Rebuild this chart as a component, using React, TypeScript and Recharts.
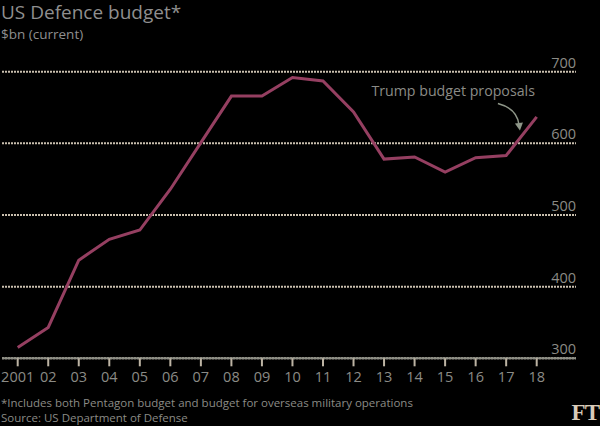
import React from 'react';
import {
  LineChart,
  Line,
  XAxis,
  YAxis,
  CartesianGrid,
  ReferenceDot,
} from 'recharts';

// page has an 8px default margin, drop it so the chart sits at 0,0
document.body.style.margin = '0';
document.body.style.background = '#000';

const years = [
  2001, 2002, 2003, 2004, 2005, 2006, 2007, 2008, 2009,
  2010, 2011, 2012, 2013, 2014, 2015, 2016, 2017, 2018,
];
const budget = [
  315, 343, 437, 466, 479, 536, 601, 666, 666,
  692, 687, 644, 578, 581, 560, 580, 583, 637,
];
const yTicks = [300, 400, 500, 600, 700];

const noteX = 2017.45;
const noteY = 618;
const noteText = 'Trump budget proposals';

const FONT = '"Open Sans", sans-serif';
const LINE = '#953f61';
const TEXT = '#8b8b86';

const data = years.map((year, i) => ({ year, value: budget[i] }));

const yearLabel = (y: number) => (y === 2001 ? '2001' : String(y).slice(2));

function YTick(props: any) {
  const { x, y, payload } = props;
  return (
    <text
      x={x}
      y={y - 4}
      textAnchor="end"
      fill={TEXT}
      fontSize={14.5}
      fontFamily={FONT}
    >
      {payload.value}
    </text>
  );
}

// curved arrow ending at the note point, label above-left of it
function Annotation(props: any) {
  const { cx, cy } = props;
  if (cx == null || cy == null) return null;
  const sx = cx - 22;
  const sy = cy - 27;
  return (
    <g>
      <text
        x={cx + 15}
        y={cy - 34}
        textAnchor="end"
        fill={TEXT}
        fontSize={14.2}
        fontFamily={FONT}
      >
        {noteText}
      </text>
      <path
        d={`M${sx},${sy} Q${cx - 3},${cy - 22} ${cx - 1},${cy - 6}`}
        fill="none"
        stroke="#8e9688"
        strokeWidth={1.5}
      />
      <path
        d={`M${cx},${cy} L${cx - 5},${cy - 7} L${cx + 3},${cy - 8} Z`}
        fill="#8e9688"
      />
    </g>
  );
}

export default function App() {
  return (
    <div
      style={{
        position: 'relative',
        width: 600,
        height: 426,
        background: '#000',
        fontFamily: FONT,
        overflow: 'hidden',
      }}
    >
      <div
        style={{
          position: 'absolute',
          left: 1,
          top: 0,
          fontSize: 19,
          lineHeight: '24px',
          color: '#8f8f8f',
          whiteSpace: 'nowrap',
        }}
      >
        US Defence budget*
      </div>
      <div
        style={{
          position: 'absolute',
          left: 1,
          top: 25,
          fontSize: 13.5,
          lineHeight: '18px',
          color: '#8f8f8f',
          whiteSpace: 'nowrap',
        }}
      >
        $bn (current)
      </div>

      <div style={{ position: 'absolute', left: 0, top: 0 }}>
        <LineChart
          width={600}
          height={426}
          data={data}
          margin={{ top: 71.7, right: 24, bottom: 37.7, left: 2 }}
        >
          <CartesianGrid
            vertical={false}
            stroke="#c9bfae"
            strokeWidth={2}
            strokeDasharray="2 1"
          />
          <XAxis
            dataKey="year"
            type="number"
            domain={[2001, 2018]}
            ticks={years}
            tickFormatter={yearLabel}
            padding={{ left: 15.7, right: 39.3 }}
            height={30}
            axisLine={{ stroke: '#8e8f86', strokeWidth: 2 }}
            tickLine={{ stroke: '#bdb4a4', strokeWidth: 2 }}
            tickSize={8}
            tickMargin={5}
            interval={0}
            tick={{ fill: TEXT, fontSize: 14.5, fontFamily: FONT }}
          />
          <YAxis
            orientation="right"
            mirror
            domain={[300, 700]}
            ticks={yTicks}
            width={24}
            axisLine={false}
            tickLine={false}
            tickSize={0}
            tickMargin={0}
            tick={(p: any) => <YTick {...p} />}
          />
          <Line
            type="linear"
            dataKey="value"
            stroke={LINE}
            strokeWidth={3}
            dot={false}
            activeDot={false}
            isAnimationActive={false}
          />
          <ReferenceDot x={noteX} y={noteY} shape={<Annotation />} />
        </LineChart>
      </div>

      <div
        style={{
          position: 'absolute',
          left: 1,
          top: 395,
          fontSize: 11.5,
          lineHeight: '15px',
          color: TEXT,
          whiteSpace: 'nowrap',
        }}
      >
        *Includes both Pentagon budget and budget for overseas military operations
        <br />
        Source: US Department of Defense
      </div>
      <div
        style={{
          position: 'absolute',
          right: 1,
          top: 400,
          fontSize: 23,
          fontWeight: 'bold',
          fontFamily: '"Liberation Serif", serif',
          color: '#d8cbb9',
          letterSpacing: -1,
        }}
      >
        FT
      </div>
    </div>
  );
}
